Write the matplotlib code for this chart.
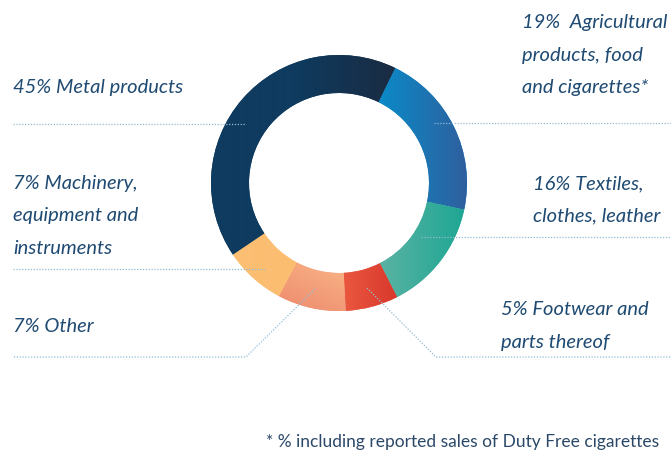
import numpy as np
import matplotlib as mpl
mpl.use('Agg')
import matplotlib.pyplot as plt
from matplotlib.colors import to_rgb

# shares as printed in the labels
label_pct = [19, 16, 5, 7, 7, 45]
label_txt = ['19%  Agricultural\nproducts, food\nand cigarettes*',
             '16% Textiles,\nclothes, leather',
             '5% Footwear and\nparts thereof',
             '7% Other',
             '7% Machinery,\nequipment and\ninstruments',
             '45% Metal products']
# arc sizes (degrees) as drawn in the ring, clockwise from the top right
arc_deg = [76, 51, 24, 31, 28, 150]

# (start colour, end colour, gradient angle in degrees)
grads = [('#0a8bc8', '#2f5f9e', 0),
         ('#5ab3a3', '#1ea694', 0),
         ('#ea583f', '#d8372c', 0),
         ('#ee8a6e', '#f9b586', 60),
         ('#fcbf73', '#fbbd70', 0),
         ('#0e3b5f', '#1b2b42', 0)]

W, H = 671, 458
txt_col = '#1f4a72'
dot_col = '#93bcd6'

fig = plt.figure(figsize=(W / 100, H / 100), dpi=100)
ax = fig.add_axes([0, 0, 1, 1])

cx, cy, R, ring = 339, 275, 128, 38
wedges, _ = ax.pie(arc_deg, startangle=64, counterclock=False, radius=R,
                   center=(cx, cy), colors=[g[0] for g in grads],
                   wedgeprops=dict(width=ring, edgecolor='none', linewidth=0))


def grad_fill(ax, wedge, c0, c1, ang, t0=0.0):
    x0, y0, x1, y1 = wedge.get_path().get_extents(wedge.get_transform()).extents
    x0, y0, x1, y1 = ax.transData.inverted().transform([[x0, y0], [x1, y1]]).ravel()
    xs, ys = np.meshgrid(np.linspace(0, 1, 200), np.linspace(0, 1, 200))
    a = np.deg2rad(ang)
    t = xs * np.cos(a) + ys * np.sin(a)
    t = (t - t.min()) / (t.max() - t.min() + 1e-9)
    t = np.clip((t - t0) / (1 - t0), 0, 1)
    c0, c1 = np.array(to_rgb(c0)), np.array(to_rgb(c1))
    img = c0[None, None, :] * (1 - t[..., None]) + c1[None, None, :] * t[..., None]
    im = ax.imshow(img, extent=(x0, x1, y0, y1), origin='lower',
                   interpolation='bilinear', zorder=2)
    im.set_clip_path(wedge)


for i, (w, (c0, c1, ang)) in enumerate(zip(wedges, grads)):
    # metal ring stays flat on the left, darkens to the right
    grad_fill(ax, w, c0, c1, ang, t0=0.45 if i == len(wedges) - 1 else 0.0)

ax.set_xlim(0, W)
ax.set_ylim(0, H)
ax.set_aspect('equal')
ax.axis('off')

# leader lines
lk = dict(color=dot_col, lw=0.9, ls=(0, (1, 1.3)), zorder=3)
ax.plot([434, W], [H - 123, H - 123], **lk)
ax.plot([421, W], [H - 237, H - 237], **lk)
ax.plot([367, 436, W], [H - 288, H - 357, H - 357], **lk)
ax.plot([315, 246, 13], [H - 289, H - 357, H - 357], **lk)
ax.plot([13, 265], [H - 269, H - 269], **lk)
ax.plot([13, 246], [H - 124, H - 124], **lk)

tk = dict(color=txt_col, fontsize=14.5, style='italic', family='Lato',
          va='center', ha='left', linespacing=2.08)
pos = [(522, 55), (533, 200), (501, 326), (13, 327), (13, 216), (13, 87)]
for (x, y), s in zip(pos, label_txt):
    ax.text(x, H - y, s, **tk)

ax.text(659, H - 442, '* % including reported sales of Duty Free cigarettes',
        color='#2b4868', fontsize=12.5, family='Lato', ha='right', va='center')

fig.savefig('out.png', dpi=100)
